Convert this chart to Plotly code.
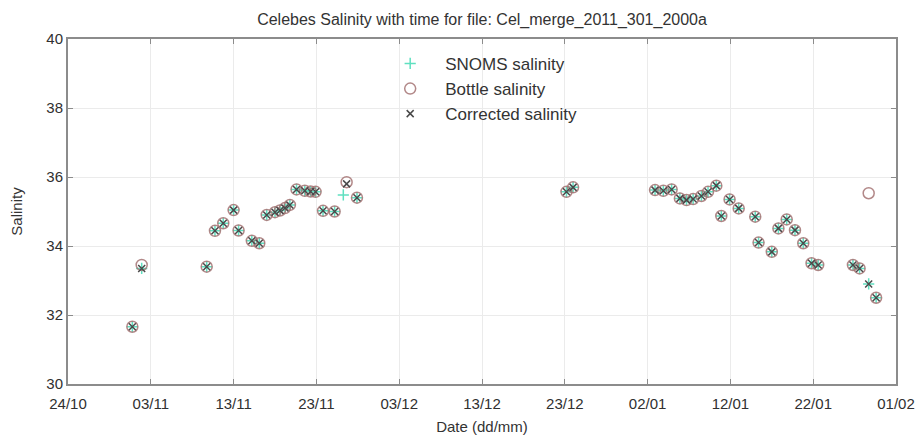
import pandas as pd
import plotly.graph_objects as go

# days after 24/10/2011
days = [7.77, 8.9, 16.75, 17.75, 18.75, 20.0, 20.6, 22.2, 23.1, 24.0, 25.0, 25.6, 26.2, 26.8,
        27.6, 28.6, 29.3, 29.9, 30.8, 32.2, 33.65, 34.9, 60.2, 61.0, 70.9, 71.9, 72.9, 73.9,
        74.7, 75.5, 76.5, 77.3, 78.3, 78.9, 79.9, 81.0, 83.0, 83.4, 85.0, 85.8, 86.8, 87.8,
        88.8, 89.8, 90.6, 94.8, 95.6, 96.7, 97.6]
corrected = [31.66, 33.35, 33.40, 34.44, 34.66, 35.04, 34.45, 34.15, 34.08, 34.90, 34.98, 35.03,
             35.10, 35.19, 35.64, 35.60, 35.58, 35.57, 35.02, 35.00, 35.80, 35.40, 35.57, 35.70,
             35.62, 35.60, 35.64, 35.38, 35.33, 35.36, 35.45, 35.57, 35.75, 34.87, 35.35, 35.09,
             34.85, 34.10, 33.83, 34.51, 34.77, 34.46, 34.08, 33.50, 33.45, 33.45, 33.35, 32.90,
             32.50]
snoms_days = [7.77, 8.9, 16.75, 17.75, 18.75, 20.0, 20.6, 22.2, 23.1, 24.0, 25.0, 25.6, 26.2, 26.8,
              27.6, 28.6, 29.3, 29.9, 30.8, 32.2, 33.25, 34.9, 60.2, 61.0, 70.9, 71.9, 72.9, 73.9,
              74.7, 75.5, 76.5, 77.3, 78.3, 78.9, 79.9, 81.0, 83.0, 83.4, 85.0, 85.8, 86.8, 87.8,
              88.8, 89.8, 90.6, 94.8, 95.6, 96.7, 97.6]
snoms = [31.66, 33.35, 33.40, 34.44, 34.66, 35.04, 34.45, 34.15, 34.08, 34.90, 34.98, 35.03,
         35.10, 35.19, 35.64, 35.60, 35.58, 35.57, 35.02, 35.00, 35.48, 35.40, 35.57, 35.70,
         35.62, 35.60, 35.64, 35.38, 35.33, 35.36, 35.45, 35.57, 35.75, 34.87, 35.35, 35.09,
         34.85, 34.10, 33.83, 34.51, 34.77, 34.46, 34.08, 33.50, 33.45, 33.45, 33.35, 32.90,
         32.50]
bottle = [31.66, 33.45, 33.40, 34.44, 34.66, 35.04, 34.45, 34.15, 34.08, 34.90, 34.98, 35.03,
          35.10, 35.19, 35.64, 35.60, 35.58, 35.57, 35.02, 35.00, 35.85, 35.40, 35.57, 35.70,
          35.62, 35.60, 35.64, 35.38, 35.33, 35.36, 35.45, 35.57, 35.75, 34.87, 35.35, 35.09,
          34.85, 34.10, 33.83, 34.51, 34.77, 34.46, 34.08, 33.50, 33.45, 33.45, 33.35, 35.53,
          32.50]

base = pd.Timestamp("2011-10-24")
to_dt = lambda d: [base + pd.Timedelta(days=v) for v in d]

font = "Liberation Sans, Arial, Helvetica, sans-serif"

fig = go.Figure()
fig.add_trace(go.Scatter(x=to_dt(snoms_days), y=snoms, mode="markers", name="SNOMS salinity",
                         legendgroup="a",
                         marker=dict(symbol="cross-thin", size=8, line=dict(color="#5fe0c0", width=1.5))))
fig.add_trace(go.Scatter(x=to_dt(days), y=bottle, mode="markers", name="Bottle salinity",
                         legendgroup="b",
                         marker=dict(symbol="circle-open", size=11, color="rgba(165,115,115,0.85)",
                                     line=dict(width=1.5))))
fig.add_trace(go.Scatter(x=to_dt(days), y=corrected, mode="markers", name="Corrected salinity",
                         legendgroup="c",
                         marker=dict(symbol="x-thin", size=7, line=dict(color="#4a4a4a", width=1.5))))

axis_common = dict(showline=True, linecolor="#8c8c8c", linewidth=2, mirror="ticks",
                   ticks="inside", ticklen=5, tickcolor="#8c8c8c", tickwidth=1,
                   showgrid=True, gridcolor="#ebebeb", gridwidth=1, zeroline=False,
                   automargin=False,
                   tickfont=dict(family=font, size=15, color="#303030"))

fig.update_layout(
    width=922, height=438,
    margin=dict(l=68, r=26, t=39, b=54),
    paper_bgcolor="white", plot_bgcolor="white",
    font=dict(family=font, color="#303030"),
    title=dict(text="Celebes Salinity with time for file: Cel_merge_2011_301_2000a",
               x=0.5228, xanchor="center", y=0.955, yanchor="middle",
               font=dict(family=font, size=16, color="#333333")),
    xaxis=dict(type="date", range=[base, base + pd.Timedelta(days=100)],
               tick0=base, dtick=10 * 86400000, tickformat="%d/%m",
               ticklabelstandoff=5,
               title=dict(text="Date (dd/mm)", font=dict(family=font, size=15, color="#333333"),
                          standoff=10),
               **axis_common),
    yaxis=dict(range=[30, 40], dtick=2, tick0=30,
               title=dict(text="Salinity", font=dict(family=font, size=15, color="#333333"),
                          standoff=20),
               **axis_common),
    legend=dict(x=0.371, y=0.98, xanchor="left", yanchor="top", bgcolor="rgba(255,255,255,0)",
                font=dict(family=font, size=17, color="#333333"), itemwidth=60,
                tracegroupgap=0),
    showlegend=True,
)

fig.write_html("out.html")
